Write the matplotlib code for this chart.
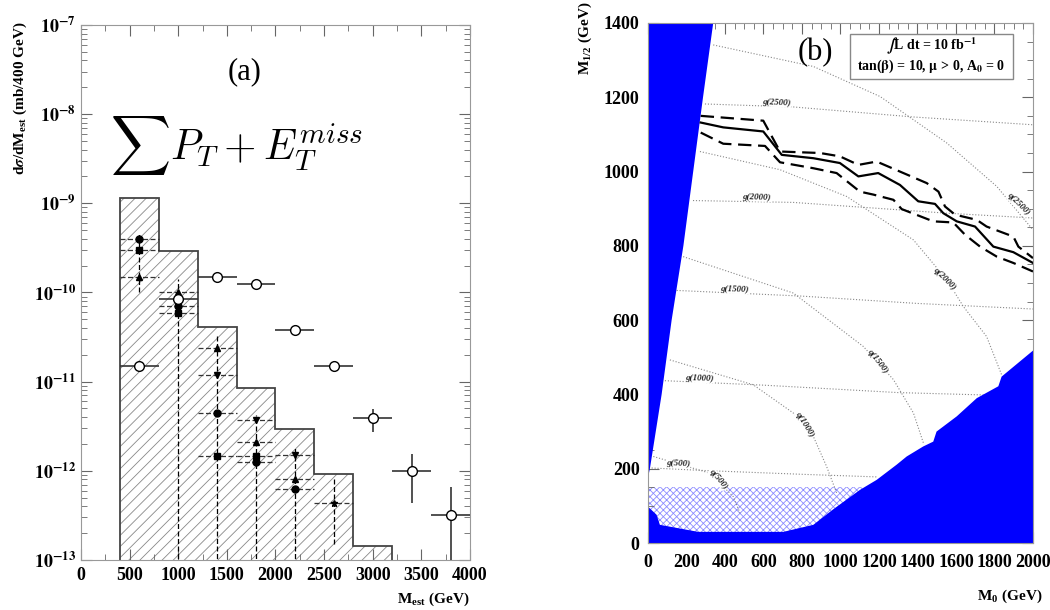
import numpy as np
import matplotlib.pyplot as plt
from matplotlib.patches import Rectangle
from matplotlib.ticker import MultipleLocator, LogLocator, FixedLocator, NullFormatter

plt.rcParams['font.family'] = ['Liberation Serif', 'DejaVu Serif']
plt.rcParams['font.weight'] = 'bold'
plt.rcParams['mathtext.fontset'] = 'stix'
plt.rcParams['hatch.linewidth'] = 0.6

# ---------------- panel (a) data ----------------
hist_edges = [400, 800, 1200, 1600, 2000, 2400, 2800, 3200]
hist_vals = [1.14e-9, 2.9e-10, 4.1e-11, 8.5e-12, 2.95e-12, 9.3e-13, 1.45e-13]

sig_x = [600, 1000, 1400, 1800, 2200, 2600, 3000, 3400, 3800]
sig_y = [1.5e-11, 8.5e-11, 1.48e-10, 1.23e-10, 3.8e-11, 1.5e-11, 3.9e-12, 1.0e-12, 3.2e-13]
sig_lo = [1.5e-11, 8.5e-11, 1.48e-10, 1.23e-10, 3.8e-11, 1.5e-11, 2.75e-12, 4.3e-13, 1e-14]
sig_hi = [1.5e-11, 8.5e-11, 1.48e-10, 1.23e-10, 3.8e-11, 1.5e-11, 4.9e-12, 1.55e-12, 6.5e-13]

bg_x = [600, 1000, 1400, 1800, 2200, 2600]
bg_top = [4.5e-10, 1.4e-10, 3.4e-11, 4.2e-12, 1.9e-12, 8e-13]
bg_bot = [1.0e-10, 1e-14, 1e-14, 1e-14, 1e-14, 1.5e-13]

circ_x = [600, 1000, 1400, 1800, 2200]
circ_y = [4.0e-10, 7.1e-11, 4.45e-12, 1.25e-12, 6.3e-13]
sq_x = [600, 1000, 1400, 1800]
sq_y = [3.0e-10, 5.9e-11, 1.47e-12, 1.47e-12]
tup_x = [600, 1000, 1400, 1800, 2200]
tup_y = [1.5e-10, 1.0e-10, 2.4e-11, 2.1e-12, 8.2e-13]
tdn_x = [1400, 1800, 2200]
tdn_y = [1.18e-11, 3.7e-12, 1.5e-12]
star_x = [2600]
star_y = [4.3e-13]

# ---------------- panel (b) data ----------------
wedge_x = [0, 10, 71, 123, 184, 235, 286, 339, 0]
wedge_y = [175, 200, 400, 600, 800, 1000, 1200, 1400, 1400]
bot_x = [0, 0, 45, 62, 261, 703, 859, 963, 1101, 1188, 1292, 1344, 1430, 1482, 1499, 1604, 1708, 1820, 1837, 2000, 2000]
bot_y = [0, 98, 76, 49, 30, 30, 49, 91, 143, 170, 211, 233, 260, 273, 300, 341, 390, 422, 448, 518, 0]
hatch_top = 150
hatch_right = 1130

g_lines = {
    'g(2500)': ([296, 755, 1379, 2000], [1182, 1174, 1147, 1126]),
    'g(2000)': ([234, 755, 1552, 2000], [922, 917, 888, 875]),
    'g(1500)': ([149, 790, 1400, 2000], [680, 665, 645, 630]),
    'g(1000)': ([88, 600, 1300, 2000], [437, 425, 405, 395]),
    'g(500)': ([19, 300, 800, 1188], [202, 195, 185, 178]),
}
q_lines = {
    'q(500)': ([28, 322, 443, 478], [233, 188, 125, 81]),
    'q(1000)': ([114, 547, 755, 859, 928, 980], [493, 426, 350, 287, 206, 135]),
    'q(1500)': ([183, 755, 1119, 1275, 1379, 1431], [771, 673, 529, 440, 350, 269]),
    'q(2000)': ([270, 686, 1032, 1379, 1552, 1638, 1759, 1837], [1054, 1005, 933, 816, 709, 637, 556, 453]),
    'q(2500)': ([339, 859, 1206, 1552, 1812, 2000], [1341, 1283, 1202, 1077, 960, 843]),
}
lab_pos = {
    'g(2500)': (669, 1185, -3), 'g(2000)': (565, 931, -2), 'g(1500)': (452, 682, -2),
    'g(1000)': (270, 442, -2), 'g(500)': (157, 213, -3),
    'q(500)': (365, 172, -50), 'q(1000)': (816, 318, -58), 'q(1500)': (1196, 489, -52),
    'q(2000)': (1543, 709, -45), 'q(2500)': (1924, 911, -45),
}

excl_x = [274, 391, 599, 695, 859, 997, 1093, 1196, 1309, 1404, 1491, 1534, 1604, 1699, 1794, 1898, 2000]
excl_y = [1132, 1119, 1108, 1045, 1036, 1023, 987, 996, 964, 920, 913, 888, 866, 852, 798, 783, 754]
up_x = [274, 599, 686, 894, 997, 1093, 1188, 1300, 1448, 1509, 1543, 1595, 1708, 1759, 1898, 1924, 2000]
up_y = [1150, 1137, 1054, 1050, 1041, 1018, 1027, 1002, 969, 946, 906, 884, 870, 852, 825, 798, 767]
lo_x = [274, 391, 608, 686, 859, 980, 1101, 1171, 1275, 1318, 1482, 1586, 1647, 1725, 1812, 1898, 2000]
lo_y = [1105, 1075, 1069, 1025, 1009, 996, 946, 938, 924, 899, 866, 863, 830, 798, 771, 754, 731]

fig = plt.figure(figsize=(10.5, 6.1), dpi=100)

# ================= panel (a) =================
ax = fig.add_axes([0.0771, 0.082, 0.3705, 0.877])
ax.set_yscale('log')
ax.stairs(hist_vals, hist_edges, baseline=1e-14, fill=True, hatch='///',
          facecolor='white', edgecolor='#888888', linewidth=0, zorder=1)
ax.stairs(hist_vals, hist_edges, baseline=1e-14, fill=False,
          color='#444444', linewidth=1.3, zorder=2)

ax.vlines(bg_x, bg_bot, bg_top, colors='black', linestyles=(0, (4, 2)), linewidth=0.9, zorder=3)
for xs, ys, m in [(circ_x, circ_y, 'o'), (sq_x, sq_y, 's'), (tup_x, tup_y, '^'),
                  (tdn_x, tdn_y, 'v'), (star_x, star_y, '*')]:
    eb = ax.errorbar(xs, ys, xerr=200, fmt=m, color='black', ms=5, elinewidth=0.9,
                     capsize=0, zorder=4)
    eb[2][0].set_linestyle((0, (4, 2)))
    eb[2][0].set_color('#333333')

sy = np.array(sig_y)
yerr = [sy - np.array(sig_lo), np.array(sig_hi) - sy]
ax.errorbar(sig_x, sig_y, xerr=200, yerr=yerr, fmt='o', mfc='white', mec='black',
            ms=7, color='#333333', elinewidth=1.2, capsize=0, zorder=5)

ax.set_xlim(0, 4000)
ax.set_ylim(1e-13, 1e-7)
ax.xaxis.set_major_locator(MultipleLocator(500))
ax.xaxis.set_minor_locator(MultipleLocator(250))
ax.yaxis.set_major_locator(FixedLocator([1e-13, 1e-12, 1e-11, 1e-10, 1e-9, 1e-8, 1e-7]))
ax.yaxis.set_minor_locator(LogLocator(base=10, subs=np.arange(2, 10)))
ax.yaxis.set_minor_formatter(NullFormatter())
ax.set_yticklabels([r'$\mathbf{10^{-%d}}$' % k for k in [13, 12, 11, 10, 9, 8, 7]])
ax.tick_params(which='both', direction='in', top=True, right=True, color='#666666')
ax.tick_params(which='major', length=8, labelsize=13)
ax.tick_params(axis='x', which='major', pad=5)
ax.tick_params(which='minor', length=4)
for lab in ax.get_xticklabels():
    lab.set_fontweight('bold')
for s in ax.spines.values():
    s.set_color('#999999')

ax.text(1680, 3.0e-8, '(a)', fontsize=22, fontweight='normal', ha='center', va='center')
ax.text(300, 4.5e-9, r'$\sum P_T + E_T^{miss}$', fontsize=30, ha='left', va='center',
        math_fontfamily='cm')
fig.text(0.019, 0.965, r'd$\sigma$/dM$_{\mathregular{est}}$ (mb/400 GeV)', rotation=90,
         ha='center', va='top', fontsize=11, fontweight='bold')
fig.text(0.447, 0.018, r'M$_{\mathregular{est}}$ (GeV)', ha='right', va='center',
         fontsize=11, fontweight='bold')

# ================= panel (b) =================
bx = fig.add_axes([0.6171, 0.1098, 0.3667, 0.8525])
bx.add_patch(Rectangle((0, 0), hatch_right, hatch_top, facecolor='white',
                       edgecolor='#8c8cff', hatch='xxxxx', linewidth=0, zorder=1))
bx.fill(bot_x, bot_y, color='#0000ff', linewidth=0, zorder=2)
bx.fill(wedge_x, wedge_y, color='#0000ff', linewidth=0, zorder=2)

for name, (xs, ys) in list(g_lines.items()) + list(q_lines.items()):
    bx.plot(xs, ys, linestyle=':', color='#888888', linewidth=0.8, zorder=1.5)
    lx, ly, rot = lab_pos[name]
    bx.text(lx, ly, name, fontsize=6.5, style='italic', rotation=rot, ha='center',
            va='center', color='#222222', zorder=1.6,
            bbox=dict(facecolor='white', edgecolor='none', pad=0.2))

bx.plot(excl_x, excl_y, color='black', linewidth=1.6, zorder=3)
bx.plot(up_x, up_y, color='black', linewidth=1.6, linestyle=(0, (6, 3)), zorder=3)
bx.plot(lo_x, lo_y, color='black', linewidth=1.6, linestyle=(0, (6, 3)), zorder=3)

bx.add_patch(Rectangle((1049, 1250), 847, 121, facecolor='white', edgecolor='#888888',
                       linewidth=1.0, zorder=4))
bx.text(1472, 1337, r'$\int$L dt = 10 fb$^{\mathbf{-1}}$', ha='center', va='center',
        fontsize=10, fontweight='bold', zorder=5)
bx.text(1472, 1283, r'tan($\mathbf{\beta}$) = 10, $\mathbf{\mu}$ > 0, A$_{\mathbf{0}}$ = 0',
        ha='center', va='center', fontsize=10, fontweight='bold', zorder=5)
bx.text(870, 1320, '(b)', fontsize=22, fontweight='normal', ha='center', va='center')

bx.set_xlim(0, 2000)
bx.set_ylim(0, 1400)
bx.xaxis.set_major_locator(MultipleLocator(200))
bx.xaxis.set_minor_locator(MultipleLocator(50))
bx.yaxis.set_major_locator(MultipleLocator(200))
bx.yaxis.set_minor_locator(MultipleLocator(50))
bx.tick_params(which='both', direction='in', top=True, right=True, color='#666666')
bx.tick_params(which='major', length=8, labelsize=13)
bx.tick_params(axis='x', which='major', pad=8)
bx.tick_params(axis='y', which='major', pad=6)
bx.tick_params(which='minor', length=4)
for lab in bx.get_xticklabels() + bx.get_yticklabels():
    lab.set_fontweight('bold')
for s in bx.spines.values():
    s.set_color('#999999')
    s.set_zorder(6)

fig.text(0.557, 0.998, r'M$_{\mathregular{1/2}}$ (GeV)', rotation=90, ha='center', va='top',
         fontsize=11, fontweight='bold')
fig.text(0.993, 0.008, r'M$_{\mathregular{0}}$ (GeV)', ha='right', va='bottom',
         fontsize=11, fontweight='bold')

fig.savefig('out.png', dpi=100)
